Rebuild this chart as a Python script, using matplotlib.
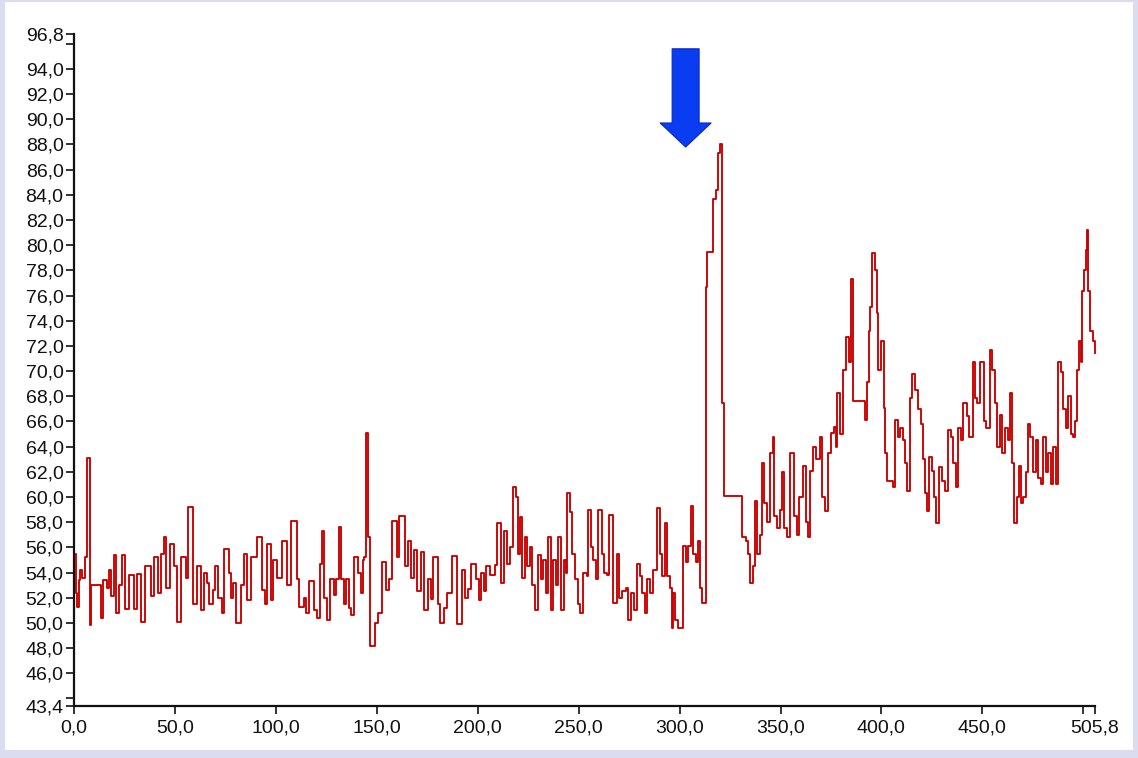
import matplotlib
matplotlib.use("Agg")
import matplotlib.pyplot as plt
from matplotlib.patches import FancyArrowPatch, Rectangle
from matplotlib.ticker import FixedFormatter

# ---- data ----
time_x = [0, 1.0, 1.5, 2.5, 3.0, 4.0, 5.4, 6.4, 7.7, 8.4, 13.4, 14.4, 16.3, 17.3, 18.3, 19.6,
          20.8, 22.3, 23.8, 25.3, 27.2, 29.7, 31.2, 33.2, 35.2, 38.1, 39.6, 41.6, 43.1, 44.6,
          45.6, 47.5, 49.5, 51.0, 53.0, 55.5, 56.5, 58.9, 60.9, 62.9, 64.4, 65.9, 66.9, 68.8,
          69.8, 71.3, 73.3, 74.3, 76.8, 77.8, 78.8, 80.2, 82.7, 84.2, 85.7, 87.7, 90.6, 93.1,
          94.6, 95.6, 97.6, 98.6, 100.5, 103.0, 105.5, 107.5, 110.5, 111.4, 113.9, 114.9, 116.4,
          118.9, 120.4, 121.8, 122.8, 123.8, 125.3, 126.8, 128.8, 129.8, 131.3, 132.2, 133.7,
          134.7, 136.2, 137.2, 138.7, 140.7, 142.2, 143.1, 143.6, 144.6, 145.6, 146.4, 149.1,
          150.6, 152.6, 154.5, 156.0, 157.5, 160.0, 161.0, 164.0, 165.4, 166.9, 168.4, 169.9,
          171.9, 173.4, 175.3, 176.8, 177.8, 180.3, 181.3, 183.3, 184.7, 187.2, 189.7, 192.2,
          193.7, 195.2, 196.6, 199.1, 200.6, 201.6, 203.1, 204.1, 206.0, 208.5, 209.5, 211.5,
          213.0, 214.5, 216.0, 217.4, 218.9, 219.9, 220.9, 221.9, 223.4, 224.4, 225.9, 226.8,
          228.3, 229.8, 231.3, 232.3, 233.8, 234.8, 236.3, 237.2, 238.7, 239.7, 241.2, 242.7,
          243.7, 244.2, 245.7, 246.7, 248.1, 249.6, 250.6, 252.1, 254.1, 254.6, 256.1, 257.1,
          258.5, 259.5, 261.5, 262.5, 264.0, 265.0, 267.0, 268.9, 269.9, 271.4, 273.4, 274.4,
          275.9, 277.4, 278.9, 280.3, 281.3, 282.8, 283.8, 285.3, 286.8, 288.8, 290.3, 291.2,
          292.7, 293.7, 295.2, 296.0, 296.7, 297.7, 299.2, 301.7, 303.2, 304.2, 305.7, 306.7,
          308.2, 309.2, 310.2, 311.1, 313.1, 313.8, 316.5, 318.0, 319.0, 320.0, 321.2, 322.0,
          330.9, 332.9, 333.8, 334.8, 336.3, 337.3, 338.3, 339.8, 340.7, 341.7, 343.2, 344.7,
          346.2, 346.7, 348.2, 349.7, 350.7, 351.7, 353.1, 354.6, 356.6, 358.1, 359.1, 361.1,
          362.6, 363.6, 364.6, 366.0, 367.5, 369.5, 370.5, 372.0, 373.5, 375.0, 376.5, 377.5,
          378.0, 379.4, 380.9, 382.4, 383.9, 384.8, 385.8, 392.0, 392.8, 393.8, 394.3, 395.3,
          396.8, 397.7, 398.2, 399.7, 401.2, 401.7, 402.7, 405.6, 406.6, 408.1, 409.1, 410.6,
          411.6, 412.6, 414.1, 415.1, 416.5, 418.0, 419.5, 420.5, 421.5, 422.5, 423.5, 425.0,
          425.9, 426.9, 428.4, 429.9, 431.4, 432.9, 434.4, 435.4, 436.9, 437.8, 439.3, 440.3,
          442.3, 443.3, 445.3, 446.3, 447.3, 448.7, 450.7, 451.7, 453.7, 454.7, 456.2, 457.2,
          458.6, 459.6, 461.1, 462.6, 463.6, 464.6, 465.6, 467.1, 468.1, 469.0, 470.0, 471.5,
          472.5, 473.5, 475.0, 476.5, 477.5, 479.0, 480.0, 481.5, 482.5, 484.0, 485.0, 486.4,
          487.4, 488.9, 489.9, 491.4, 492.4, 493.9, 494.9, 495.8, 496.8, 497.8, 498.8, 499.3,
          500.3, 501.3, 501.7, 502.2, 503.2, 504.7, 505.7, 505.8]

values = [55.5, 52.4, 51.3, 53.4, 54.2, 53.6, 55.2, 63.1, 49.8, 53.0, 50.4, 53.4, 52.8, 54.2, 52.1, 55.4,
          50.8, 53.0, 55.4, 51.1, 53.8, 51.1, 53.9, 50.1, 54.5, 52.1, 55.2, 52.4, 55.5, 56.8,
          52.8, 56.3, 54.5, 50.1, 55.2, 53.6, 59.2, 51.5, 54.5, 51.0, 54.0, 53.2, 51.5, 52.6,
          54.5, 52.0, 50.8, 55.9, 54.0, 52.0, 53.2, 50.0, 53.0, 55.5, 51.8, 55.2, 56.8, 52.6,
          51.5, 56.3, 51.8, 55.0, 53.6, 56.5, 53.0, 58.1, 53.5, 51.3, 52.0, 50.8, 53.3,
          51.0, 50.4, 54.7, 57.3, 52.0, 50.2, 53.5, 52.2, 53.5, 57.6, 53.5, 51.5,
          53.5, 51.2, 50.6, 55.2, 54.0, 52.4, 55.0, 55.2, 65.1, 56.8, 48.2, 50.0,
          50.8, 54.8, 52.6, 53.5, 58.1, 55.2, 58.5, 54.5, 56.5, 53.6, 55.8, 52.5,
          55.6, 51.0, 53.5, 51.9, 55.2, 51.5, 50.0, 51.2, 52.4, 55.3, 49.9, 54.2,
          52.0, 52.7, 54.7, 53.5, 51.8, 54.0, 52.5, 54.5, 53.8, 54.6, 57.9, 53.2,
          57.3, 54.7, 56.0, 60.8, 60.0, 55.5, 58.4, 53.6, 56.8, 54.5, 56.0, 53.0,
          51.0, 55.4, 53.5, 55.0, 52.4, 56.8, 51.0, 55.0, 53.0, 56.8, 51.0, 55.0,
          54.0, 60.3, 58.8, 55.5, 53.5, 51.5, 50.8, 54.0, 53.7, 59.0, 56.0, 55.0,
          53.5, 59.0, 55.5, 54.0, 53.8, 58.6, 51.6, 55.5, 52.0, 52.5, 52.8, 50.2,
          52.4, 51.0, 54.7, 53.7, 52.4, 50.8, 53.5, 52.4, 54.2, 59.1, 55.5, 53.7,
          57.9, 53.7, 52.8, 49.6, 52.4, 50.2, 49.6, 56.1, 54.8, 56.1, 59.3, 55.5,
          54.8, 56.5, 52.8, 51.6, 76.7, 79.5, 83.7, 84.4, 87.3, 88.0, 67.5, 60.1,
          56.8, 56.5, 55.5, 53.2, 54.5, 59.7, 55.5, 57.0, 62.7, 59.5, 58.0, 63.5,
          64.8, 58.5, 57.5, 59.0, 62.0, 57.5, 56.8, 63.5, 58.5, 57.0, 60.0, 62.5,
          58.0, 56.8, 62.1, 64.0, 63.0, 64.8, 60.0, 58.9, 63.5, 65.1, 65.6, 64.0,
          68.3, 65.0, 70.1, 72.7, 70.7, 77.3, 67.6, 66.1, 69.1, 73.2, 75.1, 79.4,
          78.0, 74.6, 70.1, 72.4, 67.1, 63.5, 61.3, 60.8, 66.1, 64.8, 65.5, 64.5,
          62.7, 60.5, 67.9, 69.8, 68.5, 67.0, 65.8, 63.0, 60.3, 58.9, 63.2, 62.1,
          60.0, 57.9, 62.4, 61.3, 60.5, 65.3, 64.8, 62.7, 60.8, 65.5, 64.5, 67.5,
          66.4, 64.8, 70.7, 67.9, 67.5, 70.7, 66.0, 65.5, 71.7, 70.1, 67.5, 64.0,
          66.5, 63.5, 65.5, 64.5, 68.3, 62.7, 57.9, 60.0, 62.5, 59.5, 60.0, 62.0,
          65.8, 64.8, 62.0, 64.5, 61.5, 61.0, 64.8, 62.0, 63.5, 61.0, 64.0, 61.0,
          70.7, 69.9, 67.0, 65.5, 68.0, 65.0, 64.8, 66.0, 70.1, 72.4, 70.7, 76.4,
          78.0, 79.6, 81.2, 76.4, 73.2, 72.4, 71.4, 71.4]

# tick positions and their labels (some ticks carry no label, as in the reference)
y_ticks = [43.4, 44, 46, 48, 50, 52, 54, 56, 58, 60, 62, 64, 66, 68, 70, 72, 74, 76, 78,
           80, 82, 84, 86, 88, 90, 92, 94, 96, 96.8]
y_labels = ["43,4", "", "46,0", "48,0", "50,0", "52,0", "54,0", "56,0", "58,0", "60,0",
            "62,0", "64,0", "66,0", "68,0", "70,0", "72,0", "74,0", "76,0", "78,0", "80,0",
            "82,0", "84,0", "86,0", "88,0", "90,0", "92,0", "94,0", "", "96,8"]
x_ticks = [0, 50, 100, 150, 200, 250, 300, 350, 400, 450, 500, 505.8]
x_labels = ["0,0", "50,0", "100,0", "150,0", "200,0", "250,0", "300,0", "350,0",
            "400,0", "450,0", "", "505,8"]
x_range = (0, 505.8)
y_range = (43.4, 96.8)

# arrow annotation (data units): tail top -> tip
arrow_x = 303.0
arrow_y_top = 95.6
arrow_y_tip = 87.8

# ---- figure ----
W, H, DPI = 1138, 758, 100
fig = plt.figure(figsize=(W / DPI, H / DPI), dpi=DPI, facecolor="#dcdcf0")
fig.patches.append(Rectangle((5 / W, 8 / H), (W - 10) / W, (H - 10) / H,
                             transform=fig.transFigure, facecolor="white",
                             edgecolor="none", zorder=-10))

ax = fig.add_axes([74 / W, 1 - 706 / H, (1095 - 74) / W, (706 - 33.7) / H])
ax.set_facecolor("none")
ax.set_zorder(5)

ax.plot(time_x, values, drawstyle="steps-post", color="#c80000", lw=1.35, clip_on=False)

ax.set_xlim(*x_range)
ax.set_ylim(*y_range)

ax.set_xticks(x_ticks)
ax.set_yticks(y_ticks)
ax.xaxis.set_major_formatter(FixedFormatter(x_labels))
ax.yaxis.set_major_formatter(FixedFormatter(y_labels))

for s in ("top", "right"):
    ax.spines[s].set_visible(False)
for s in ("left", "bottom"):
    ax.spines[s].set_linewidth(1.6)
    ax.spines[s].set_color("#111111")

ax.tick_params(axis="both", direction="out", length=5.5, width=1.2, color="#111111",
               labelsize=14, labelcolor="#111111")
ax.tick_params(axis="y", pad=2)
ax.tick_params(axis="x", pad=4)
for lab in ax.get_xticklabels() + ax.get_yticklabels():
    lab.set_fontfamily("Liberation Sans")

arrow = FancyArrowPatch((arrow_x, arrow_y_top), (arrow_x, arrow_y_tip),
                        arrowstyle="simple,head_length=17.3,head_width=36.7,tail_width=19.4",
                        mutation_scale=1, shrinkA=0, shrinkB=0,
                        facecolor="#0a3cf2", edgecolor="#0828c0", lw=0.8,
                        clip_on=False, zorder=5)
ax.add_patch(arrow)

fig.savefig("out.png", dpi=DPI, facecolor=fig.get_facecolor())
